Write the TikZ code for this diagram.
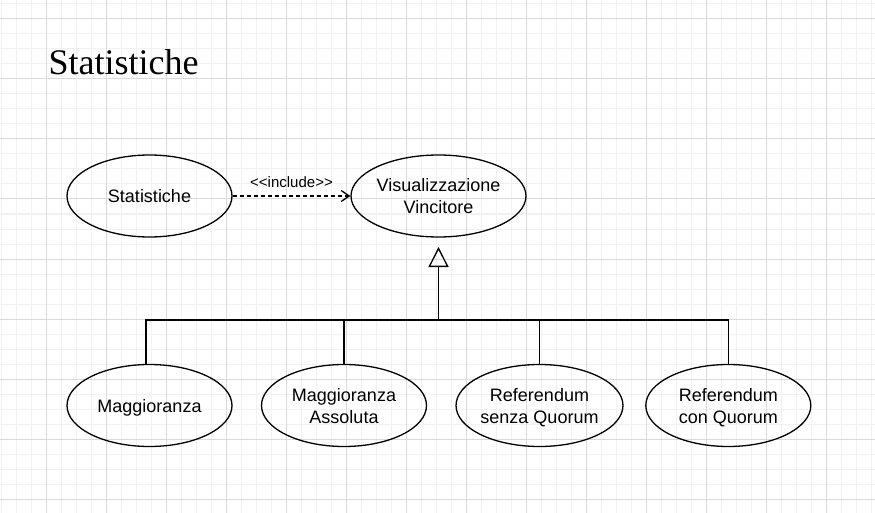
\documentclass[tikz,border=0pt]{standalone}
\usepackage{fontspec}
\setmainfont{Liberation Sans}[Ligatures=TeXOff]
\newfontfamily\titlefont{Liberation Serif}
\usetikzlibrary{shapes.geometric,arrows.meta}
\definecolor{gridminor}{HTML}{F1F1F1}
\definecolor{gridmajor}{HTML}{DADADA}
\begin{document}
\begin{tikzpicture}[x=1pt,y=-1pt,
  uc/.style={ellipse,draw,line width=1.3pt,minimum width=165pt,minimum height=82pt,inner sep=0pt,align=center,text depth=0pt,font=\fontsize{18}{22}\selectfont},
  link/.style={draw,line width=1.3pt},
  incl/.style={link,dash pattern=on 4pt off 3pt,-{Straight Barb[length=8pt,width=11pt,line width=1.3pt]}},
  gen/.style={link,-{Triangle[open,length=20pt,width=20pt,line width=1.3pt]}},
]
\useasboundingbox (0,0) rectangle (875,513);
\fill[white] (0,0) rectangle (875,513);
\foreach \x in {1,16,...,871} \draw[line width=1pt,gridminor] (\x,0) -- (\x,513);
\foreach \y in {4,19,...,511} \draw[line width=1pt,gridminor] (0,\y) -- (875,\y);
\foreach \x in {46,106,...,871} \draw[line width=1pt,gridmajor] (\x,0) -- (\x,513);
\foreach \y in {19,79,...,511} \draw[line width=1pt,gridmajor] (0,\y) -- (875,\y);

\node[anchor=base west,inner sep=0pt,font=\titlefont\fontsize{36}{40}\selectfont] (title) at (48.5,75) {Statistiche};

\node[uc] (stat) at (149.5,196) {Statistiche};
\node[uc] (vis) at (438.5,196) {Visualizzazione\\Vincitore};
\node[uc] (m1) at (149.5,405.5) {Maggioranza};
\node[uc] (m2) at (344,405.5) {Maggioranza\\Assoluta};
\node[uc] (r1) at (539.5,405.5) {Referendum\\senza Quorum};
\node[uc] (r2) at (728.3,405.5) {Referendum\\con Quorum};

\draw[incl] (stat.east) -- (vis.west) node[midway,above=4pt,font=\fontsize{15}{17}\selectfont] (lbl) {<<include>>};

\coordinate (j) at (438.5,320);
\coordinate (tip) at (438.5,247);
\draw[link] ([xshift=-3.5pt]m1.north) |- (j);
\draw[link] (m2.north) |- (j);
\draw[link] (r1.north) |- (j);
\draw[link] (r2.north) |- (j);
\draw[gen] (j) -- (tip);
\end{tikzpicture}
\end{document}
